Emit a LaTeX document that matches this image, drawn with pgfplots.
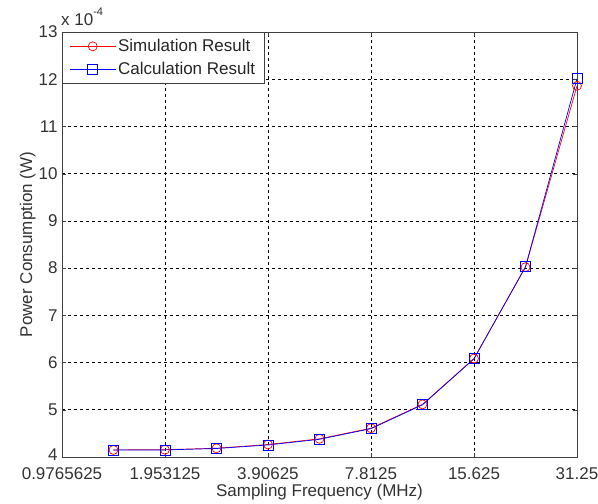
\documentclass[border=0pt]{standalone}
\usepackage{pgfplots}
\pgfplotsset{compat=1.18}
\usepackage{fontspec}
\setmainfont{Liberation Sans}

% Power consumption (in units of 1e-4 W) versus sampling frequency (MHz)
\pgfplotstableread{
f        sim    calc
1.38107  4.150  4.150
1.953125 4.155  4.150
2.76214  4.185  4.180
3.90625  4.265  4.255
5.52427  4.385  4.375
7.8125   4.610  4.600
11.0485  5.115  5.105
15.625   6.085  6.080
22.0971  8.020  8.030
31.25    11.860 12.010
}\datatable

\newcommand{\chartfont}{\fontsize{17}{19}\selectfont}

\begin{document}
\begin{tikzpicture}
\begin{axis}[
  name=ax,
  scale only axis,
  width=515pt, height=425pt,
  xmode=log, log basis x=2,
  xmin=0.9765625, xmax=31.25,
  ymin=4, ymax=13,
  xtick={0.9765625,1.953125,3.90625,7.8125,15.625,31.25},
  xticklabels={0.9765625,1.953125,3.90625,7.8125,15.625,31.25},
  ytick={4,5,...,13},
  yticklabels={\raisebox{4pt}{4},5,6,7,8,9,10,11,12,13},
  /pgf/number format/assume math mode=true,
  tick label style={font=\chartfont, text=black!80},
  label style={font=\chartfont, text=black!80},
  xlabel={Sampling Frequency (MHz)},
  ylabel={Power Consumption (W)},
  xlabel style={yshift=2pt},
  ylabel style={yshift=-4pt},
  y tick label style={xshift=-1pt},
  x tick label style={yshift=-7pt},
  grid=major,
  major grid style={black, dashed, line width=0.6pt},
  axis line style={black!75, line width=0.8pt},
  tick align=inside,
  major tick length=4pt,
  tick style={black!75},
  minor tick num=0,
  legend image code/.code={
    \draw[mark repeat=2, mark phase=2, #1]
      plot coordinates {(0pt,0pt) (23pt,0pt) (46pt,0pt)};},
  legend style={at={(0,1)}, anchor=north west, draw=black!75, line width=0.8pt,
    font=\chartfont, text=black!85, inner xsep=7pt, inner ysep=5pt,
    row sep=5pt, cells={anchor=west}},
  legend cell align=left,
]
\addplot[red, line width=0.7pt, mark=o, mark size=4.5pt, mark options={solid}]
  table[x=f, y=sim] {\datatable};
\addlegendentry{Simulation Result}
\addplot[blue, line width=0.7pt, mark=square, mark size=5pt, mark options={solid}]
  table[x=f, y=calc] {\datatable};
\addlegendentry{Calculation Result}
\end{axis}
\node[anchor=south west, font=\chartfont, text=black!80, inner sep=0pt]
  at ([xshift=-1pt, yshift=6pt]ax.north west) {x 10\raisebox{0.6em}{\fontsize{11}{13}\selectfont -4}};
\pgfresetboundingbox
\path ([xshift=-62pt, yshift=-47pt]ax.south west) rectangle ([xshift=21pt, yshift=32pt]ax.north east);
\end{tikzpicture}
\end{document}
